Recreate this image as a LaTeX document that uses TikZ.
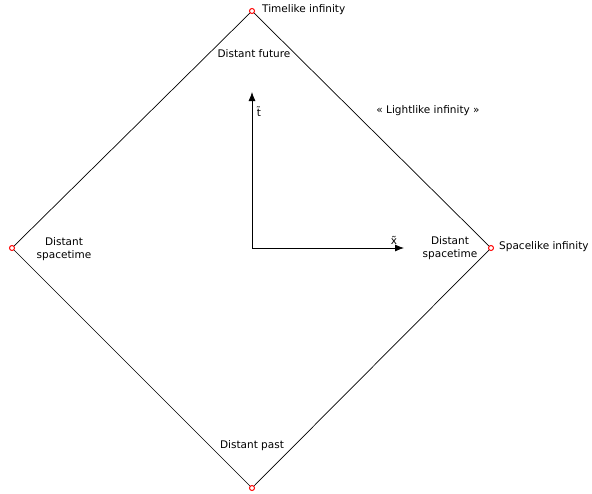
\documentclass[tikz,border=0pt]{standalone}
\usepackage{fontspec}
\setmainfont{DejaVu Sans}
\usetikzlibrary{arrows.meta}

\tikzset{
    corner/.style={circle,draw=red,fill=white,line width=1pt,inner sep=0pt,minimum size=5pt},
    lbl/.style={font=\fontsize{10.5}{12.5}\selectfont,align=center,inner sep=1pt},
    axis/.style={-{Latex[length=9pt,width=7pt]},line width=0.8pt}
}

\begin{document}
\begin{tikzpicture}[x=1pt,y=-1pt]
    \useasboundingbox (0,0) rectangle (592,493);

    % punti
    \node[corner] (T) at (252,11) {};
    \node[corner] (R) at (491,248) {};
    \node[corner] (B) at (252,488) {};
    \node[corner] (L) at (12,248) {};
    \coordinate (O) at (252,248);
    \coordinate (Tt) at (252,92);
    \coordinate (Xx) at (404,248);

    % diamante
    \draw[line width=0.7pt] (T) -- (R) -- (B) -- (L) -- (T);

    % assi
    \draw[axis] (O) -- (Tt);
    \draw[axis] (O) -- (Xx);
    \node[lbl] (tl) at (259,112) {\~t};
    \node[lbl] (xl) at (394,240) {\~x};

    % etichette
    \node[lbl,anchor=west] (timelike) at (261,10) {Timelike infinity};
    \node[lbl] (future) at (254,54) {Distant future};
    \node[lbl] (light) at (428,111) {« Lightlike infinity »};
    \node[lbl] (dsr) at (450,248) {Distant\\spacetime};
    \node[lbl,anchor=west] (spacelike) at (498,247) {Spacelike infinity};
    \node[lbl] (dsl) at (64,249) {Distant\\spacetime};
    \node[lbl] (past) at (252,446) {Distant past};
\end{tikzpicture}
\end{document}
